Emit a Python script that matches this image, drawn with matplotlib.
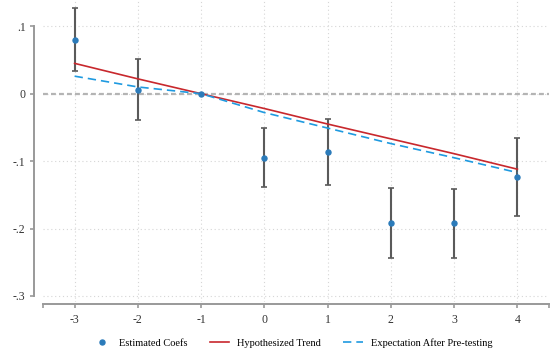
import numpy as np
import matplotlib.pyplot as plt
from matplotlib.legend_handler import HandlerLine2D

plt.rcParams['font.family'] = ['Liberation Serif', 'DejaVu Serif']
plt.rcParams['axes.unicode_minus'] = False

# event time
periods = [-3, -2, -1, 0, 1, 2, 3, 4]

# estimated coefficients and confidence bounds
coefs = [0.079, 0.006, 0.0, -0.095, -0.087, -0.192, -0.192, -0.124]
ci_hi = [0.127, 0.051, np.nan, -0.051, -0.038, -0.140, -0.142, -0.066]
ci_lo = [0.034, -0.039, np.nan, -0.138, -0.135, -0.244, -0.243, -0.181]

# hypothesized linear trend and expectation after pre-testing
trend = [0.045, 0.022, 0.0, -0.022, -0.045, -0.067, -0.089, -0.112]
pretest = [0.026, 0.010, 0.0, -0.028, -0.051, -0.074, -0.095, -0.117]

yticks = [-0.3, -0.2, -0.1, 0.0, 0.1]
ytick_labels = ['-.3', '-.2', '-.1', '0', '.1']


class RightMarker(HandlerLine2D):
    # put the legend marker close to its label, like Stata does
    def get_xdata(self, legend, xdescent, ydescent, width, height, fontsize):
        xd, _ = super().get_xdata(legend, xdescent, ydescent, width, height, fontsize)
        return xd, np.array([-xdescent + width - 2.5])


fig = plt.figure(figsize=(5.56, 3.58), dpi=100)
ax = fig.add_axes([43 / 556, 1 - 302 / 358, (549 - 43) / 556, 302 / 358])

coefs_a = np.array(coefs)
lo = coefs_a - np.array(ci_lo)
hi = np.array(ci_hi) - coefs_a

ax.axhline(0, color='#b4b4b4', lw=1.6, ls=(0, (2.2, 1.4)), zorder=1)
ax.errorbar(periods, coefs, yerr=[lo, hi], fmt='none', ecolor='#5a5a5a',
            elinewidth=1.5, capsize=2.5, capthick=1.2, zorder=2)
ax.plot(periods, trend, color='#c8282d', lw=1.2, zorder=3,
        label='Hypothesized Trend')
ax.plot(periods, pretest, color='#1f9ae0', lw=1.2, ls=(0, (5, 3)), zorder=3,
        label='Expectation After Pre-testing')
pts, = ax.plot(periods, coefs, 'o', color='#2b7bba', ms=3.6, zorder=4,
               label='Estimated Coefs')

ax.set_xlim(-3.5, 4.5)
ax.set_ylim(-0.309, 0.139)
ax.set_xticks(periods)
ax.set_xticks([-3.5, 4.5], minor=True)
ax.set_yticks(yticks)
ax.set_yticklabels(ytick_labels)

ax.grid(True, color='#d6d6d6', lw=0.8, ls=(0, (1, 2.5)))
ax.set_axisbelow(True)

for s in ['top', 'right']:
    ax.spines[s].set_visible(False)
ax.spines['left'].set_position(('outward', 6.5))
ax.spines['left'].set_bounds(-0.3, 0.1)
ax.spines['bottom'].set_position(('outward', 1.5))
for s in ['left', 'bottom']:
    ax.spines[s].set_color('#999999')
    ax.spines[s].set_linewidth(1.4)

ax.tick_params(axis='both', which='both', color='#999999', width=1.2,
               length=3, labelsize=8.5, labelcolor='#333333')
ax.tick_params(axis='x', pad=4)
ax.tick_params(axis='y', pad=3)

handles, labels = ax.get_legend_handles_labels()
order = [2, 0, 1]
fig.legend([handles[i] for i in order], [labels[i] for i in order],
           loc='center', bbox_to_anchor=(0.525, 0.042), ncol=3,
           frameon=False, fontsize=7.5, handlelength=1.9,
           columnspacing=2.1, handletextpad=0.75,
           handler_map={pts: RightMarker()})

fig.savefig('out.png', dpi=100)
